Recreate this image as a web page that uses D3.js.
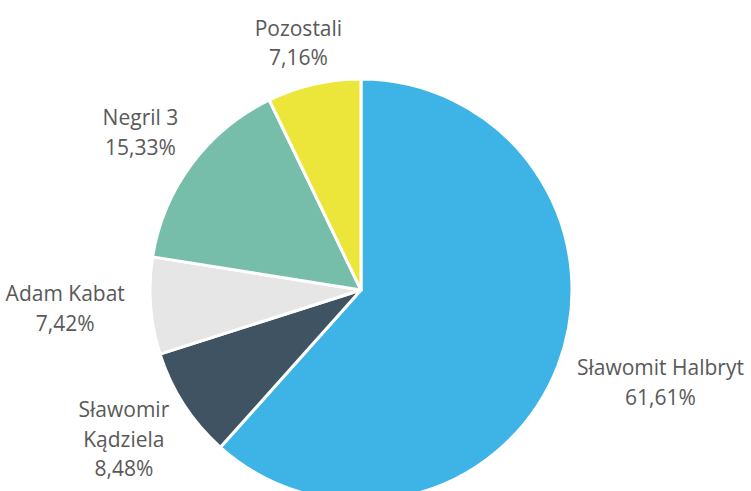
<!DOCTYPE html>
<html>
<head>
<meta charset="utf-8">
<script src="https://cdn.jsdelivr.net/npm/d3@7"></script>
<style>
  body { margin: 0; background: #fff; }
  text { font-family: "Open Sans", sans-serif; fill: #595959; }
</style>
</head>
<body>
<div id="pie"></div>
<script>
// dane
const names = ["Sławomit Halbryt", "Sławomir Kądziela", "Adam Kabat", "Negril 3", "Pozostali"];
const labelLines = [["Sławomit Halbryt"], ["Sławomir", "Kądziela"], ["Adam Kabat"], ["Negril 3"], ["Pozostali"]];
const shares = [61.61, 8.48, 7.42, 15.33, 7.16];
const colors = ["#3DB4E5", "#3F5363", "#E6E6E6", "#76BDAA", "#EDE63A"];

const width = 751, height = 491;
const cx = 361, cy = 290, radius = 211;
const fontSize = 21, lineH = 29.5;

const svg = d3.select("#pie")
    .append("svg")
    .attr("width", width)
    .attr("height", height);

const datos = names.map((n, i) => ({name: n, lines: labelLines[i], value: shares[i], color: colors[i]}));

const pie = d3.pie().sort(null).value(d => d.value);
const arc = d3.arc().innerRadius(0).outerRadius(radius);
const arcs = pie(datos);

const g = svg.append("g").attr("transform", `translate(${cx},${cy})`);

g.selectAll("path")
    .data(arcs)
    .enter()
    .append("path")
    .attr("d", arc)
    .attr("fill", d => d.data.color)
    .attr("stroke", "#fff")
    .attr("stroke-width", 3)
    .attr("stroke-linejoin", "round");

// Etykiety poza wycinkami
const fmt = v => v.toFixed(2).replace(".", ",") + "%";
const labelR = radius + 26;
const topMargin = 19;

arcs.forEach(d => {
    const a = (d.startAngle + d.endAngle) / 2;
    const dx = Math.sin(a), dy = -Math.cos(a);
    const lines = d.data.lines.concat([fmt(d.data.value)]);

    const t = g.append("text")
        .attr("text-anchor", "middle")
        .style("font-size", fontSize + "px");
    lines.forEach((l, i) => {
        t.append("tspan").attr("x", 0).attr("y", i * lineH).text(l);
    });

    const bb = t.node().getBBox();
    const w = bb.width, h = (lines.length - 1) * lineH + fontSize;
    const px = labelR * dx + dx * w / 2;
    let top = labelR * dy + dy * h / 2 - h / 2;
    // nie wychodzić poza górną krawędź wykresu
    top = Math.max(top, topMargin - cy);
    t.attr("transform", `translate(${px},${top + fontSize * 0.8})`);
});
</script>
</body>
</html>
